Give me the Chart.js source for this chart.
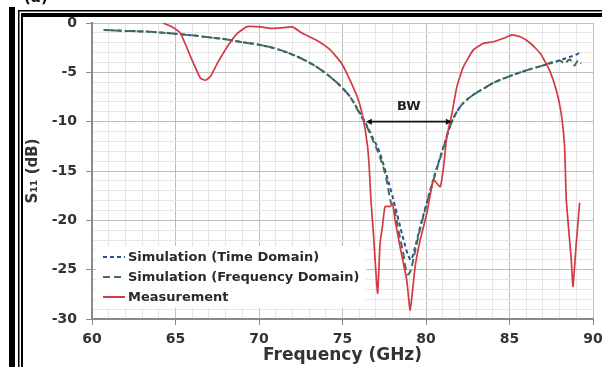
<!DOCTYPE html>
<html>
<head>
<meta charset="utf-8">
<script src="https://cdn.jsdelivr.net/npm/chart.js@4.4.1/dist/chart.umd.min.js"></script>
<style>
  html, body { margin: 0; padding: 0; background: #fff; }
  #wrap { width: 602px; height: 367px; position: relative; }
</style>
</head>
<body>
<div id="wrap"><canvas id="c" width="602" height="367"></canvas></div>
<script>
// ---- Data ----
const seriesLabels = ['Simulation (Time Domain)', 'Simulation (Frequency Domain)', 'Measurement'];

const timeDomainGHz = [60.7, 62, 63, 64, 65, 66, 67, 68, 69, 70, 71, 72, 73, 74, 75, 75.5, 76, 76.4, 76.8, 77.2, 77.6, 78.0, 78.3, 78.6, 78.9, 79.1, 79.3, 79.6, 80.0, 80.5, 81.0, 81.5, 82.0, 82.5, 83.0, 83.5, 84, 85, 86, 87, 88, 88.5, 89, 89.3];
const timeDomainDB  = [-0.7, -0.8, -0.85, -0.95, -1.1, -1.25, -1.45, -1.65, -1.95, -2.2, -2.6, -3.2, -4.0, -5.1, -6.6, -7.6, -9.0, -10.2, -11.6, -13.0, -15.2, -17.6, -19.6, -21.6, -23.4, -24.0, -23.0, -21.0, -18.5, -15.5, -12.8, -10.2, -8.6, -7.7, -7.1, -6.6, -6.1, -5.4, -4.8, -4.3, -3.8, -3.5, -3.2, -2.9];

const freqDomainGHz = [60.7, 62, 63, 64, 65, 66, 67, 68, 69, 70, 71, 72, 73, 74, 75, 75.5, 76, 76.4, 76.8, 77.2, 77.6, 77.9, 78.1, 78.3, 78.6, 78.9, 79.1, 79.3, 79.6, 80.0, 80.5, 81.0, 81.5, 82.0, 82.5, 83.0, 83.5, 84, 85, 86, 87, 87.5, 88, 88.3, 88.6, 88.9, 89.1, 89.3];
const freqDomainDB  = [-0.7, -0.8, -0.85, -0.95, -1.1, -1.25, -1.45, -1.65, -1.95, -2.2, -2.6, -3.2, -4.0, -5.1, -6.6, -7.6, -9.1, -10.3, -11.8, -13.4, -15.6, -18.2, -18.8, -20.6, -23.0, -25.5, -25.0, -23.5, -21.2, -18.6, -15.6, -12.9, -10.2, -8.6, -7.7, -7.1, -6.6, -6.1, -5.4, -4.8, -4.3, -4.0, -3.8, -4.1, -3.7, -4.3, -3.8, -4.1];

const measGHz = [64.25, 64.8, 65.3, 65.9, 66.5, 66.8, 67.1, 67.5, 68.1, 68.7, 69.3, 70.1, 70.7, 71.3, 72.0, 72.6, 73.4, 74.25, 74.95, 75.45, 75.95, 76.25, 76.5, 76.6, 76.7, 76.85, 77.1, 77.25, 77.4, 77.55, 77.85, 78.0, 78.15, 78.45, 78.85, 79.05, 79.35, 79.65, 80.05, 80.45, 80.85, 81.05, 81.25, 81.55, 81.85, 82.25, 82.85, 83.45, 84.05, 84.65, 85.15, 85.65, 86.25, 86.85, 87.4, 87.8, 88.1, 88.3, 88.4, 88.7, 88.8, 89.0, 89.2];
const measDB  = [0.0, -0.4, -1.05, -3.4, -5.6, -5.8, -5.4, -4.1, -2.4, -1.05, -0.37, -0.4, -0.55, -0.5, -0.4, -1.05, -1.7, -2.7, -4.1, -5.8, -7.8, -9.8, -12.5, -14.6, -17.9, -21.3, -27.4, -22.3, -20.5, -18.6, -18.6, -18.3, -20.0, -22.7, -26.1, -29.1, -24.7, -22.0, -19.3, -15.9, -16.6, -14.6, -11.5, -9.2, -6.45, -4.4, -2.7, -2.05, -1.9, -1.55, -1.2, -1.4, -2.05, -3.1, -4.8, -6.8, -9.2, -12.5, -17.9, -24.0, -26.7, -22.3, -18.2];

// Bandwidth marker (-10 dB crossings) and its label
const bwGHz = [76.4, 81.55];
const bwLevelDB = -10;
const bwLabel = 'BW';

// Axis ranges / ticks
const xMin = 60, xMax = 90, yMin = -30, yMax = 0;
const majorStep = 5, minorStep = 1;

// ---- Build chart ----
const toXY = (xs, ys) => xs.map((x, i) => ({ x: x, y: ys[i] }));
const FONT = '"DejaVu Sans", "Liberation Sans", Arial, sans-serif';

const colors = { time: '#2f4f95', freq: '#3f7052', meas: '#d23a44' };
const dashes = { time: [4, 3], freq: [7, 4], meas: [] };

const data = {
  datasets: [
    { label: seriesLabels[2], data: toXY(measGHz, measDB), borderColor: colors.meas, borderWidth: 1.7, borderDash: dashes.meas, pointRadius: 0, tension: 0.15, fill: false },
    { label: seriesLabels[1], data: toXY(freqDomainGHz, freqDomainDB), borderColor: colors.freq, borderWidth: 2, borderDash: dashes.freq, pointRadius: 0, cubicInterpolationMode: 'monotone', fill: false },
    { label: seriesLabels[0], data: toXY(timeDomainGHz, timeDomainDB), borderColor: colors.time, borderWidth: 2, borderDash: dashes.time, pointRadius: 0, cubicInterpolationMode: 'monotone', fill: false }
  ]
};

const isMajor = v => Math.abs(v % majorStep) < 1e-6;
const gridColor = ctx => (ctx.tick && isMajor(ctx.tick.value)) ? '#bdbdbd' : '#e6e6e6';
const tickColor = ctx => (ctx.tick && isMajor(ctx.tick.value)) ? '#8a8a8a' : 'rgba(0,0,0,0)';

const framePlugin = {
  id: 'frame',
  beforeDraw(chart) {
    const ctx = chart.ctx;
    ctx.save();
    ctx.fillStyle = '#ffffff';
    ctx.fillRect(0, 0, chart.width, chart.height);
    ctx.fillStyle = '#000000';
    ctx.fillRect(9, 7, 6, chart.height - 7);
    ctx.fillRect(18, 10, 1.5, chart.height - 10);
    ctx.fillRect(18, 10, chart.width - 18, 1.5);
    ctx.fillRect(21, 13, 2, chart.height - 13);
    ctx.fillRect(21, 13, chart.width - 21, 4);
    ctx.fillStyle = '#111';
    ctx.font = 'bold 15px ' + FONT;
    ctx.textBaseline = 'alphabetic';
    ctx.fillText('(a)', 24, 2);
    ctx.restore();
  }
};

const legendBox = { x: 96, y: 246, w: 270, h: 62 };
const legendPlugin = {
  id: 'insideLegend',
  beforeDatasetsDraw(chart) {
    const ctx = chart.ctx;
    ctx.save();
    ctx.fillStyle = '#ffffff';
    ctx.fillRect(legendBox.x, legendBox.y, legendBox.w, legendBox.h);
    ctx.restore();
  },
  afterDatasetsDraw(chart) {
    const ctx = chart.ctx;
    ctx.save();
    const order = [2, 1, 0];
    const rowY = [257, 277, 297];
    order.forEach((di, r) => {
      const ds = chart.data.datasets[di];
      const y = rowY[r];
      ctx.strokeStyle = ds.borderColor;
      ctx.lineWidth = 2;
      ctx.setLineDash(ds.borderDash || []);
      ctx.beginPath();
      ctx.moveTo(103, y);
      ctx.lineTo(125, y);
      ctx.stroke();
      ctx.setLineDash([]);
      ctx.fillStyle = '#2a2a2a';
      ctx.font = 'bold 13px ' + FONT;
      ctx.textBaseline = 'middle';
      ctx.textAlign = 'left';
      ctx.fillText(ds.label, 128, y + 0.5);
    });
    ctx.restore();
  }
};

const bwPlugin = {
  id: 'bw',
  afterDatasetsDraw(chart) {
    const ctx = chart.ctx;
    const xs = chart.scales.x, ys = chart.scales.y;
    const x1 = xs.getPixelForValue(bwGHz[0]);
    const x2 = xs.getPixelForValue(bwGHz[1]);
    const y = ys.getPixelForValue(bwLevelDB);
    ctx.save();
    ctx.strokeStyle = '#111';
    ctx.fillStyle = '#111';
    ctx.lineWidth = 1.6;
    ctx.beginPath();
    ctx.moveTo(x1 + 2, y);
    ctx.lineTo(x2 - 2, y);
    ctx.stroke();
    const ah = 6, aw = 3;
    ctx.beginPath();
    ctx.moveTo(x1, y); ctx.lineTo(x1 + ah, y - aw); ctx.lineTo(x1 + ah, y + aw); ctx.closePath(); ctx.fill();
    ctx.beginPath();
    ctx.moveTo(x2, y); ctx.lineTo(x2 - ah, y - aw); ctx.lineTo(x2 - ah, y + aw); ctx.closePath(); ctx.fill();
    ctx.font = 'bold 13px ' + FONT;
    ctx.textAlign = 'center';
    ctx.textBaseline = 'middle';
    ctx.fillStyle = '#222';
    ctx.fillText(bwLabel, (x1 + x2) / 2, y - 15);
    ctx.restore();
  }
};

new Chart(document.getElementById('c'), {
  type: 'line',
  data: data,
  plugins: [framePlugin, legendPlugin, bwPlugin],
  options: {
    responsive: false,
    animation: false,
    devicePixelRatio: 1,
    layout: { padding: { left: 0, top: 23, right: 9, bottom: 0 } },
    plugins: { legend: { display: false }, tooltip: { enabled: false } },
    scales: {
      x: {
        type: 'linear',
        min: xMin, max: xMax,
        afterFit: s => { s.height = 48; s.paddingRight = 0; s.paddingLeft = 0; },
        ticks: {
          stepSize: minorStep, autoSkip: false, maxRotation: 0,
          color: '#333', font: { family: FONT, size: 14, weight: 'bold' }, padding: 6,
          callback: v => isMajor(v) ? String(v) : ''
        },
        grid: { color: gridColor, tickColor: tickColor, tickLength: 6, lineWidth: 1 },
        border: { display: true, color: '#8a8a8a', width: 2 },
        title: { display: true, text: 'Frequency (GHz)', color: '#333', font: { family: FONT, size: 17, weight: 'bold' }, padding: { top: 0, bottom: 1 } }
      },
      y: {
        min: yMin, max: yMax,
        afterFit: s => { s.width = 92; },
        ticks: {
          stepSize: minorStep, autoSkip: false,
          color: '#333', font: { family: FONT, size: 14, weight: 'bold' }, padding: 9,
          callback: v => isMajor(v) ? String(v) : ''
        },
        grid: { color: gridColor, tickColor: tickColor, tickLength: 6, lineWidth: 1 },
        border: { display: true, color: '#8a8a8a', width: 2 },
        title: { display: true, text: 'S\u2081\u2081 (dB)', color: '#333', font: { family: FONT, size: 15, weight: 'bold' }, padding: { top: 24, bottom: 0 } }
      }
    }
  }
});
</script>
</body>
</html>
